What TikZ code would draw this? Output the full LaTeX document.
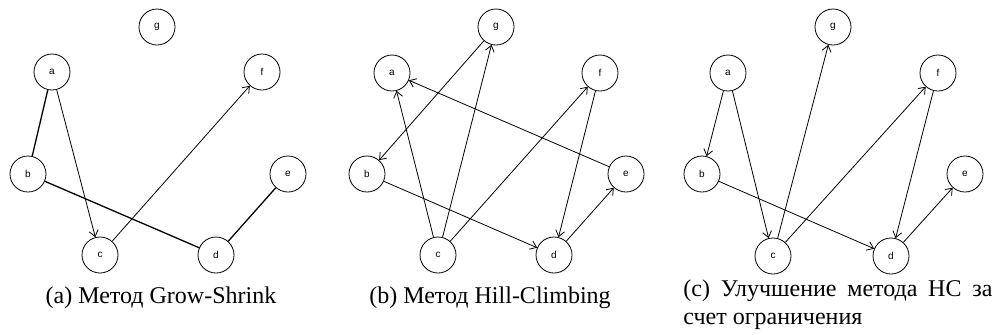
\documentclass[tikz,border=0pt]{standalone}
\usepackage{fontspec}
\setmainfont{Liberation Serif}
\newfontfamily\vlabelfont{Liberation Sans}
\usetikzlibrary{arrows.meta}

\begin{document}
\begin{tikzpicture}[x=0.5pt, y=-0.5pt,
    vert/.style={draw, circle, minimum size=18pt, inner sep=0pt,
      font=\vlabelfont\fontsize{5}{6}\selectfont},
    dedge/.style={-{Straight Barb[length=3pt,width=4.5pt]}, line width=0.4pt},
    uedge/.style={line width=0.65pt},
    capt/.style={font=\fontsize{12}{14}\selectfont, inner sep=0pt}]
  \useasboundingbox (0,0) rectangle (995,334);

  % (a) Grow-Shrink
  \node[vert] (g1) at (157,27) {g};
  \node[vert] (a1) at (52,72) {a};
  \node[vert] (f1) at (262,72) {f};
  \node[vert] (b1) at (28,174) {b};
  \node[vert] (e1) at (288,174) {e};
  \node[vert] (c1) at (100,255) {c};
  \node[vert] (d1) at (216,255) {d};
  \draw[uedge] (a1) -- (b1);
  \draw[uedge] (b1) -- (d1);
  \draw[uedge] (d1) -- (e1);
  \draw[dedge] (a1) -- (c1);
  \draw[dedge] (c1) -- (f1);
  \node[capt, anchor=base] (capa) at (161,303) {(a) Метод Grow-Shrink};

  % (b) Hill-Climbing
  \node[vert] (g2) at (496,27) {g};
  \node[vert] (a2) at (392,73) {a};
  \node[vert] (f2) at (600,73) {f};
  \node[vert] (b2) at (367,174) {b};
  \node[vert] (e2) at (626,174) {e};
  \node[vert] (c2) at (438,255) {c};
  \node[vert] (d2) at (554,255) {d};
  \draw[dedge] (g2) -- (b2);
  \draw[dedge] (c2) -- (a2);
  \draw[dedge] (c2) -- (g2);
  \draw[dedge] (c2) -- (f2);
  \draw[dedge] (e2) -- (a2);
  \draw[dedge] (b2) -- (d2);
  \draw[dedge] (f2) -- (d2);
  \draw[dedge] (d2) -- (e2);
  \node[capt, anchor=base] (capb) at (490,303) {(b) Метод Hill-Climbing};

  % (c) HC with restriction
  \node[vert] (g3) at (833,27) {g};
  \node[vert] (a3) at (728,73) {a};
  \node[vert] (f3) at (938,73) {f};
  \node[vert] (b3) at (702,174) {b};
  \node[vert] (e3) at (965,174) {e};
  \node[vert] (c3) at (773,256) {c};
  \node[vert] (d3) at (891,256) {d};
  \draw[dedge] (a3) -- (b3);
  \draw[dedge] (a3) -- (c3);
  \draw[dedge] (c3) -- (g3);
  \draw[dedge] (c3) -- (f3);
  \draw[dedge] (f3) -- (d3);
  \draw[dedge] (b3) -- (d3);
  \draw[dedge] (d3) -- (e3);
  \node[capt, anchor=north west, text width=154.5pt, align=justify] (capc) at (683,279)
    {(c) Улучшение метода HC за\linebreak счет ограничения};
\end{tikzpicture}
\end{document}
